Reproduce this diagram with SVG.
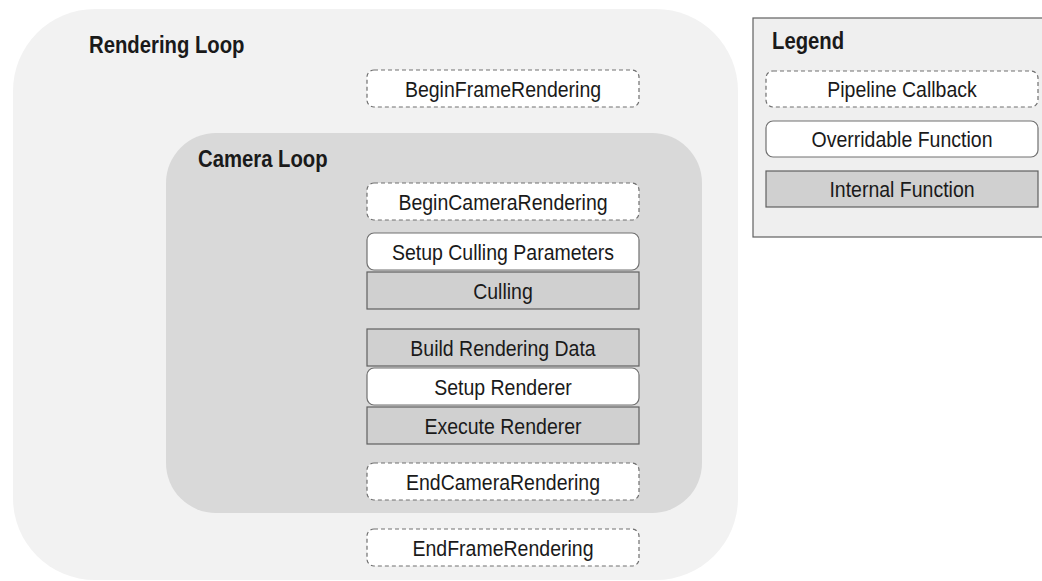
<svg xmlns="http://www.w3.org/2000/svg" width="1042" height="581" viewBox="0 0 1042 581">
  <style>
    text { font-family: "Liberation Sans", Arial, sans-serif; fill: #1a1a1a; }
    .t { font-size: 19.5px; text-anchor: middle; }
    .h { font-size: 20.3px; font-weight: bold; }
    .cb { fill: #ffffff; stroke: #707070; stroke-width: 1.2; stroke-dasharray: 4 3; }
    .ov { fill: #ffffff; stroke: #707070; stroke-width: 1.2; }
    .in { fill: #d0d0d0; stroke: #606060; stroke-width: 1.2; }
  </style>
  <rect width="1042" height="581" fill="#ffffff"/>
  <g id="rendering-loop">
    <rect x="13" y="9" width="725" height="571" rx="82" ry="82" fill="#f2f2f2"/>
    <text class="h" transform="translate(89,52.5) scale(1,1.17)">Rendering Loop</text>
  </g>
  <g id="camera-loop">
    <rect x="166" y="133" width="536" height="380" rx="50" ry="50" fill="#d9d9d9"/>
    <text class="h" transform="translate(198,166.5) scale(1,1.17)">Camera Loop</text>
  </g>
  <g id="begin-frame">
    <rect class="cb" x="367" y="70" width="272" height="37" rx="7"/>
    <text class="t" transform="translate(503,97) scale(1,1.17)">BeginFrameRendering</text>
  </g>
  <g id="begin-camera">
    <rect class="cb" x="367" y="183" width="272" height="37" rx="7"/>
    <text class="t" transform="translate(503,210) scale(1,1.17)">BeginCameraRendering</text>
  </g>
  <g id="setup-culling">
    <rect class="ov" x="367" y="233" width="272" height="37" rx="7"/>
    <text class="t" transform="translate(503,260) scale(1,1.17)">Setup Culling Parameters</text>
  </g>
  <g id="culling">
    <rect class="in" x="367" y="272" width="272" height="37"/>
    <text class="t" transform="translate(503,299) scale(1,1.17)">Culling</text>
  </g>
  <g id="build-data">
    <rect class="in" x="367" y="329" width="272" height="37"/>
    <text class="t" transform="translate(503,356) scale(1,1.17)">Build Rendering Data</text>
  </g>
  <g id="setup-renderer">
    <rect class="ov" x="367" y="368" width="272" height="37" rx="7"/>
    <text class="t" transform="translate(503,395) scale(1,1.17)">Setup Renderer</text>
  </g>
  <g id="execute-renderer">
    <rect class="in" x="367" y="407" width="272" height="37"/>
    <text class="t" transform="translate(503,434) scale(1,1.17)">Execute Renderer</text>
  </g>
  <g id="end-camera">
    <rect class="cb" x="367" y="463" width="272" height="37" rx="7"/>
    <text class="t" transform="translate(503,490) scale(1,1.17)">EndCameraRendering</text>
  </g>
  <g id="end-frame">
    <rect class="cb" x="367" y="529" width="272" height="37" rx="7"/>
    <text class="t" transform="translate(503,556) scale(1,1.17)">EndFrameRendering</text>
  </g>
  <g id="legend">
    <rect x="753" y="18" width="300" height="219" fill="#efefef" stroke="#606060" stroke-width="1.2"/>
    <text class="h" transform="translate(772,49) scale(1,1.17)">Legend</text>
    <rect class="cb" x="766" y="71" width="272" height="36" rx="7"/>
    <text class="t" transform="translate(902,97) scale(1,1.17)">Pipeline Callback</text>
    <rect class="ov" x="766" y="121" width="272" height="36" rx="7"/>
    <text class="t" transform="translate(902,147) scale(1,1.17)">Overridable Function</text>
    <rect class="in" x="766" y="171" width="272" height="36"/>
    <text class="t" transform="translate(902,197) scale(1,1.17)">Internal Function</text>
  </g>
  <g id="connectors"/>
</svg>
